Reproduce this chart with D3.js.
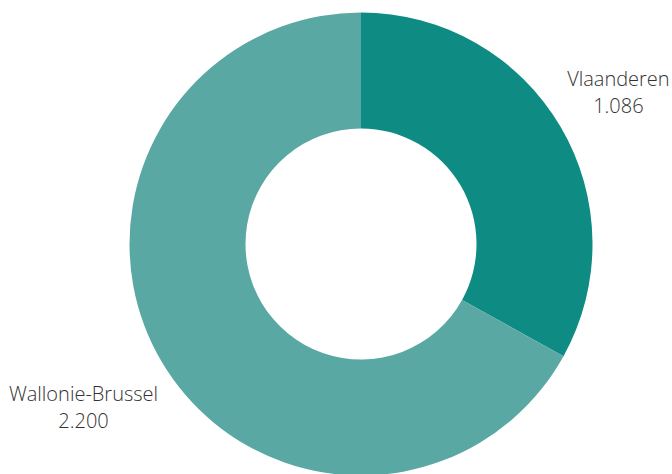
<!DOCTYPE html>
<html>
<head>
<meta charset="utf-8">
<script src="https://cdn.jsdelivr.net/npm/d3@7/dist/d3.min.js"></script>
<style>
  html, body { margin: 0; padding: 0; background: #fff; }
  svg { display: block; }
  text { font-family: "Open Sans", sans-serif; font-weight: 300; fill: #333; }
</style>
</head>
<body>
<svg id="chart" width="672" height="474"></svg>
<script>
// Donut data: regions and their counts
const regions = ["Vlaanderen", "Wallonie-Brussel"];
const counts = [1086, 2200];
const valueLabels = ["1.086", "2.200"];
const colors = ["#0e8c84", "#5aa8a4"];

const width = 672, height = 474;
const cx = 361, cy = 244;
const outerR = 231.5, innerR = 115.5;
const fontSize = 20, lineGap = 27;

const svg = d3.select("#chart");
const g = svg.append("g").attr("transform", `translate(${cx},${cy})`);

const pie = d3.pie().sort(null).value(d => d.value);
const arcs = pie(regions.map((r, i) => ({ name: r, value: counts[i], label: valueLabels[i], color: colors[i] })));

const arc = d3.arc().innerRadius(innerR).outerRadius(outerR);

g.selectAll("path.slice")
  .data(arcs)
  .join("path")
  .attr("class", "slice")
  .attr("d", arc)
  .attr("fill", d => d.data.color);

// Labels placed along each slice's mid angle, pushed out by half their width
const labels = g.selectAll("g.label")
  .data(arcs)
  .join("g")
  .attr("class", "label");

labels.each(function(d) {
  const lg = d3.select(this);
  const t1 = lg.append("text").attr("text-anchor", "middle").attr("font-size", fontSize).text(d.data.name);
  const t2 = lg.append("text").attr("text-anchor", "middle").attr("font-size", fontSize).text(d.data.label);
  const w = Math.max(t1.node().getComputedTextLength(), t2.node().getComputedTextLength());
  const mid = (d.startAngle + d.endAngle) / 2;
  const r = outerR + 16 + w / 2;
  const x = r * Math.sin(mid);
  const y = -r * Math.cos(mid);
  const cap = fontSize * 0.714;
  const b1 = y - lineGap / 2 + cap / 2;
  t1.attr("x", x).attr("y", b1);
  t2.attr("x", x).attr("y", b1 + lineGap);
});
</script>
</body>
</html>
